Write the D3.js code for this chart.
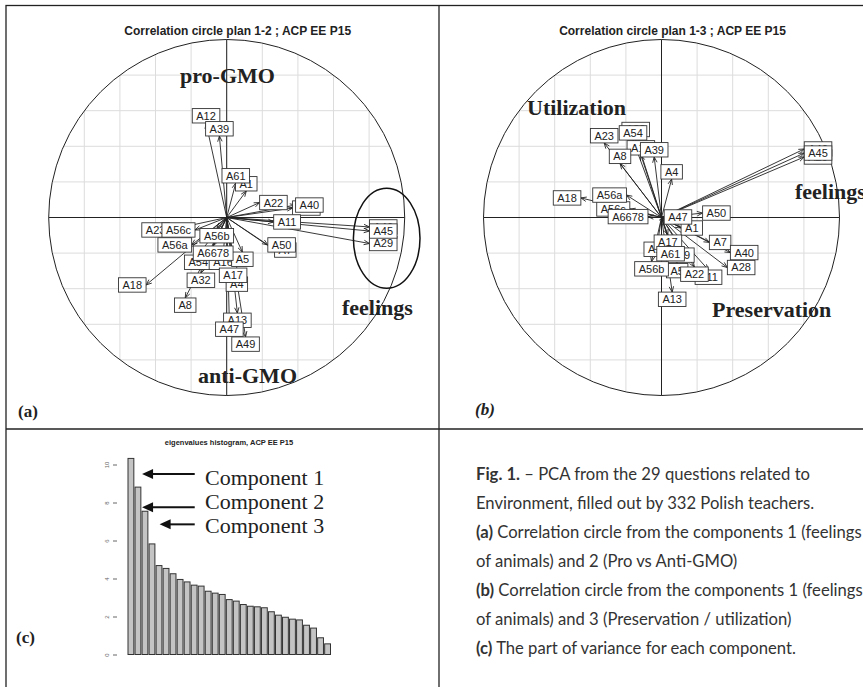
<!DOCTYPE html>
<html>
<head>
<meta charset="utf-8">
<script src="https://cdn.jsdelivr.net/npm/d3@7"></script>
<style>
  body { margin: 0; background: #fff; }
  svg { display: block; }
</style>
</head>
<body>
<svg id="fig" width="863" height="687"></svg>
<script>
// Variables of the PCA, in the order R drew them (later labels sit on top)
const vars = ["A12", "A1", "A23", "A28", "A46", "A29", "A7", "A32", "A54", "A16", "A4", "A13", "A11", "A49", "A17",
  "A5", "A56c", "A39", "A61", "A8", "A40", "A45", "A50", "A6678", "A22", "A47", "A18", "A56a", "A56b"];
const comp1 = [-0.116, 0.110, -0.322, 0.370, 0.802, 0.802, 0.269, -0.145, -0.160, -0.021, 0.057, 0.060, 0.264, 0.106, 0.036,
  0.088, -0.178, -0.041, 0.051, -0.233, 0.387, 0.802, 0.231, -0.076, 0.185, 0.015, -0.453, -0.197, -0.056];
const comp2 = [0.531, 0.149, -0.070, 0.053, -0.053, -0.146, -0.183, -0.312, -0.211, -0.211, -0.334, -0.537, -0.025, -0.671, -0.284,
  -0.194, -0.070, 0.458, 0.194, -0.452, 0.070, -0.076, -0.154, -0.160, 0.084, -0.587, -0.379, -0.154, -0.062];
const comp3 = [0.351, -0.059, 0.419, -0.281, 0.385, 0.340, -0.140, 0.454, 0.435, -0.138, 0.216, -0.419, -0.295, -0.171, -0.098,
  -0.258, 0.048, 0.340, -0.163, 0.303, -0.197, 0.362, 0.025, 0.005, -0.278, 0.003, 0.110, 0.126, -0.248];

// Eigenvalues (part of variance, %) for the 29 components
const eigen = [10.32, 8.81, 7.54, 5.82, 4.68, 4.53, 4.25, 3.95, 3.82, 3.65, 3.60, 3.33, 3.23, 3.16, 2.89,
  2.81, 2.63, 2.54, 2.51, 2.46, 2.25, 2.07, 1.96, 1.86, 1.82, 1.54, 1.39, 0.88, 0.56];
const eigenTicks = [0, 2, 4, 6, 8, 10];
const compLabels = ["Component 1", "Component 2", "Component 3"];
const compArrowY = [9.5, 7.75, 6.85];   // height (eigen units) of each annotation arrow
const compArrowTip = [2.0, 2.0, 4.5];   // bar index the arrow points to

const caption = [
  [["Fig. 1.", true], [" \u2013 PCA from the 29 questions related to", false]],
  [["Environment, filled out by 332 Polish teachers.", false]],
  [["(a)", true], [" Correlation circle from the components 1 (feelings", false]],
  [["of animals) and 2 (Pro vs Anti-GMO)", false]],
  [["(b)", true], [" Correlation circle from the components 1 (feelings", false]],
  [["of animals) and 3 (Preservation / utilization)", false]],
  [["(c)", true], [" The part of variance for each component.", false]]
];

const svg = d3.select("#fig");

// frame of the four panels
svg.append("rect").attr("x", 6).attr("y", 5.5).attr("width", 900).attr("height", 720)
  .attr("fill", "none").attr("stroke", "#222").attr("stroke-width", 1.3);
svg.append("line").attr("x1", 439).attr("x2", 439).attr("y1", 5.5).attr("y2", 700)
  .attr("stroke", "#222").attr("stroke-width", 1.3);
svg.append("line").attr("x1", 6).attr("x2", 900).attr("y1", 429).attr("y2", 429)
  .attr("stroke", "#222").attr("stroke-width", 1.3);

// Correlation circle, ade4 s.corcircle style
function corCircle(id, cx, cy, r, xs, ys, title) {
  const g = svg.append("g");
  const x = d3.scaleLinear().domain([-1, 1]).range([cx - r, cx + r]);
  const y = d3.scaleLinear().domain([-1, 1]).range([cy + r, cy - r]);

  g.append("clipPath").attr("id", id).append("circle")
    .attr("cx", cx).attr("cy", cy).attr("r", r);

  const grid = g.append("g").attr("clip-path", `url(#${id})`)
    .attr("stroke", "#dcdcdc").attr("stroke-width", 1);
  const steps = d3.range(-8, 9).map((d) => d / 10).filter((d, i) => i % 2 === 0);
  grid.selectAll("line.v").data(steps).enter().append("line")
    .attr("x1", (d) => x(d)).attr("x2", (d) => x(d)).attr("y1", y(1)).attr("y2", y(-1));
  grid.selectAll("line.h").data(steps).enter().append("line")
    .attr("y1", (d) => y(d)).attr("y2", (d) => y(d)).attr("x1", x(-1)).attr("x2", x(1));

  g.append("circle").attr("cx", cx).attr("cy", cy).attr("r", r)
    .attr("fill", "none").attr("stroke", "#222").attr("stroke-width", 1);
  g.append("line").attr("x1", x(-1)).attr("x2", x(1)).attr("y1", y(0)).attr("y2", y(0))
    .attr("stroke", "#222").attr("stroke-width", 1);
  g.append("line").attr("x1", x(0)).attr("x2", x(0)).attr("y1", y(-1)).attr("y2", y(1))
    .attr("stroke", "#222").attr("stroke-width", 1);

  g.append("text").attr("x", cx + 11).attr("y", 35).attr("text-anchor", "middle")
    .attr("font-family", "Liberation Sans, Arial, sans-serif").attr("font-weight", "bold")
    .attr("font-size", "12px").attr("fill", "#222").text(title);

  // arrows from the origin
  const arrows = g.append("g").attr("stroke", "#222").attr("stroke-width", 0.9).attr("fill", "none");
  vars.forEach((v, i) => {
    const x2 = x(xs[i]), y2 = y(ys[i]);
    const a = Math.atan2(y2 - cy, x2 - cx);
    const L = 6, w = 0.38;
    arrows.append("line").attr("x1", cx).attr("y1", cy).attr("x2", x2).attr("y2", y2);
    arrows.append("path").attr("d",
      `M${x2 - L * Math.cos(a - w)},${y2 - L * Math.sin(a - w)}L${x2},${y2}L${x2 - L * Math.cos(a + w)},${y2 - L * Math.sin(a + w)}`);
  });

  // labels with boxes, placed beside the tip according to quadrant
  const yh = 7.2;
  vars.forEach((v, i) => {
    const xr = xs[i], yr = ys[i];
    const px = x(xr), py = y(yr);
    const lab = g.append("g");
    const t = lab.append("text").attr("text-anchor", "middle").attr("dy", "0.36em")
      .attr("font-family", "Liberation Sans, Arial, sans-serif").attr("font-size", "11px")
      .attr("fill", "#222").text(v);
    const xh = t.node().getComputedTextLength() + 8;
    let x1 = px, y1 = py;
    if (xr > yr && xr > -yr) x1 = px + xh / 2;
    else if (xr > yr && xr <= -yr) y1 = py + yh;
    else if (xr <= yr && xr <= -yr) x1 = px - xh / 2;
    else y1 = py - yh;
    t.attr("x", x1).attr("y", y1);
    lab.insert("rect", "text").attr("x", x1 - xh / 2).attr("y", y1 - yh)
      .attr("width", xh).attr("height", 2 * yh)
      .attr("fill", "#fff").attr("stroke", "#333").attr("stroke-width", 0.9);
  });
  return g;
}

function bigWord(g, txt, x, y) {
  g.append("text").attr("x", x).attr("y", y)
    .attr("font-family", "Liberation Serif, Times New Roman, serif").attr("font-weight", "bold")
    .attr("font-size", "22px").attr("fill", "#222").text(txt);
}

const ga = corCircle("clipA", 226.7, 217.5, 178, comp1, comp2, "Correlation circle plan 1-2 ; ACP EE P15");
bigWord(ga, "pro-GMO", 180, 83);
bigWord(ga, "anti-GMO", 198, 383);
bigWord(ga, "feelings", 342, 315);
ga.append("ellipse").attr("cx", 386.7).attr("cy", 238.3).attr("rx", 33.3).attr("ry", 50)
  .attr("fill", "none").attr("stroke", "#111").attr("stroke-width", 1.5);
ga.append("text").attr("x", 18).attr("y", 417)
  .attr("font-family", "Liberation Serif, serif").attr("font-weight", "bold")
  .attr("font-size", "17px").attr("fill", "#222").text("(a)");

const gb = corCircle("clipB", 661.5, 217.5, 178, comp1, comp3, "Correlation circle plan 1-3 ; ACP EE P15");
bigWord(gb, "Utilization", 527, 115);
bigWord(gb, "feelings", 795, 199);
bigWord(gb, "Preservation", 712, 317);
gb.append("text").attr("x", 475).attr("y", 415)
  .attr("font-family", "Liberation Serif, serif").attr("font-weight", "bold").attr("font-style", "italic")
  .attr("font-size", "17px").attr("fill", "#222").text("(b)");

// eigenvalues histogram
const gc = svg.append("g");
const xb = d3.scaleBand().domain(d3.range(eigen.length)).range([128, 330.5]).paddingInner(0.17).paddingOuter(0);
const yb = d3.scaleLinear().domain([0, 10]).range([654.5, 464.5]);
const xi = (i) => xb.range()[0] + i * xb.step();

gc.append("text").attr("x", 229).attr("y", 445).attr("text-anchor", "middle")
  .attr("font-family", "Liberation Sans, Arial, sans-serif").attr("font-weight", "bold")
  .attr("font-size", "7.5px").attr("fill", "#222").text("eigenvalues histogram, ACP EE P15");

gc.selectAll("rect.bar").data(eigen).enter().append("rect")
  .attr("x", (d, i) => xb(i)).attr("width", xb.bandwidth())
  .attr("y", (d) => yb(d)).attr("height", (d) => yb(0) - yb(d))
  .attr("fill", "#c4c4c4").attr("stroke", "#333").attr("stroke-width", 1);

const yAxis = gc.append("g").attr("transform", "translate(117,0)")
  .call(d3.axisLeft(yb).tickValues(eigenTicks).tickSize(4).tickFormat(d3.format("d")));
yAxis.select(".domain").remove();
yAxis.selectAll(".tick line").attr("stroke", "#666");
yAxis.selectAll(".tick text").attr("font-family", "Liberation Sans, Arial, sans-serif").attr("font-size", "6px")
  .attr("fill", "#666").attr("transform", "rotate(-90)").attr("x", 0).attr("y", -8)
  .attr("text-anchor", "middle").attr("dy", "0");

compLabels.forEach((lab, i) => {
  const yy = yb(compArrowY[i]);
  const tipX = xi(compArrowTip[i]);
  const tailX = xi(9.5);
  gc.append("line").attr("x1", tailX).attr("x2", tipX + 9).attr("y1", yy).attr("y2", yy)
    .attr("stroke", "#111").attr("stroke-width", 2);
  gc.append("path").attr("d", `M${tipX},${yy}L${tipX + 11},${yy - 5}L${tipX + 11},${yy + 5}Z`).attr("fill", "#111");
  gc.append("text").attr("x", 205).attr("y", 485 + i * 24)
    .attr("font-family", "Liberation Serif, Times New Roman, serif").attr("font-size", "22px")
    .attr("fill", "#222").text(lab);
});

gc.append("text").attr("x", 16).attr("y", 643)
  .attr("font-family", "Liberation Serif, serif").attr("font-weight", "bold")
  .attr("font-size", "17px").attr("fill", "#222").text("(c)");

// caption
const gd = svg.append("g").attr("font-family", "Lato, Open Sans, sans-serif").attr("fill", "#333");
const lines = gd.selectAll("text").data(caption).enter().append("text")
  .attr("x", 476).attr("y", (d, i) => 480 + i * 29).attr("font-size", "15px");
lines.selectAll("tspan").data((d) => d).enter().append("tspan")
  .attr("font-weight", (d) => (d[1] ? "bold" : "normal")).text((d) => d[0]);
// fit font size to the width of the longest line
const w3 = lines.nodes()[2].getComputedTextLength();
lines.attr("font-size", (15 * 386 / w3) + "px");
</script>
</body>
</html>
